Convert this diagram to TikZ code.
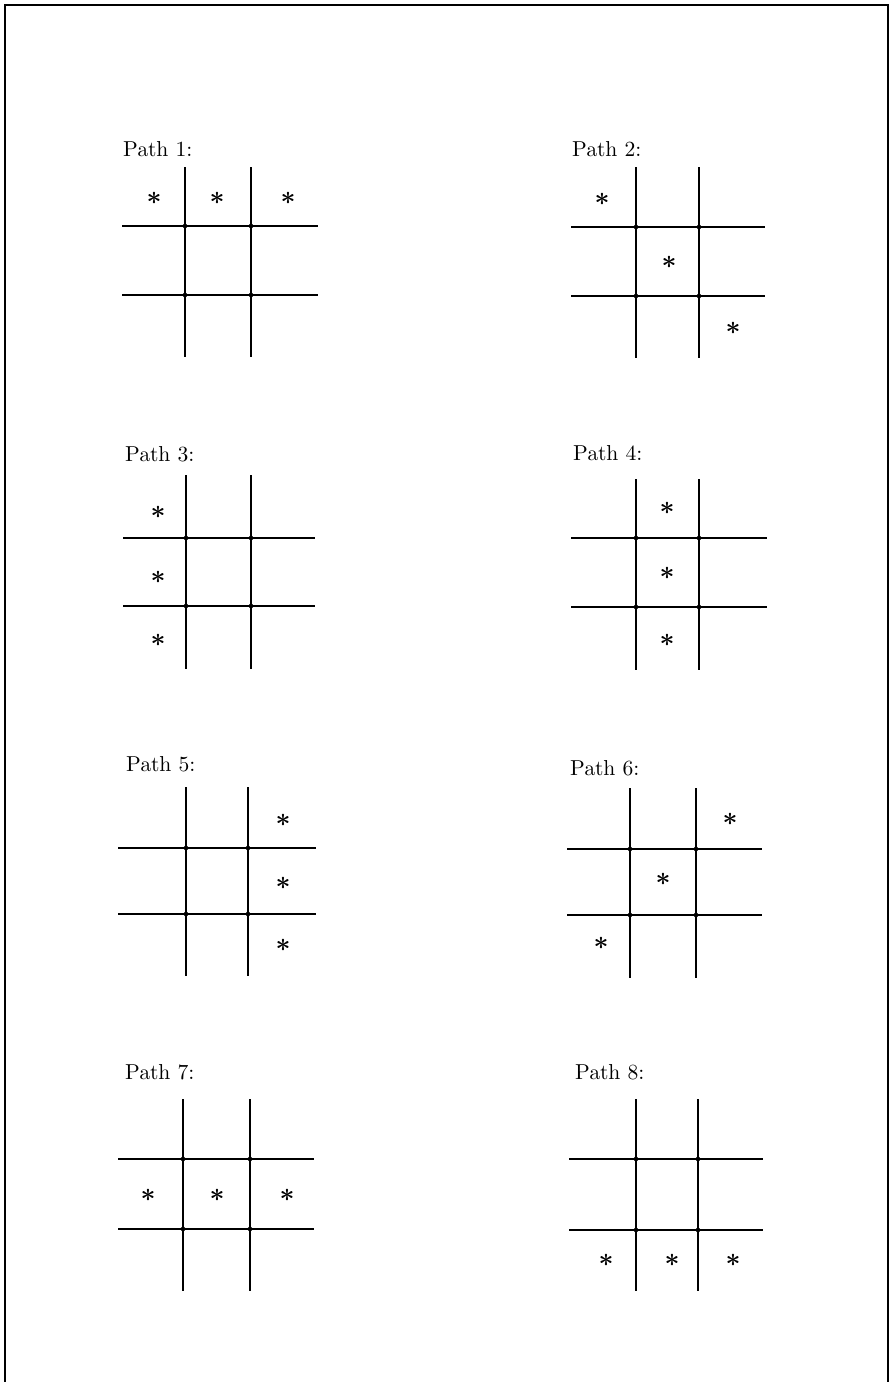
\documentclass[tikz,border=0pt]{standalone}
\usepackage{amsmath,amssymb}
\usepackage{tikz}

\font\pathfont=cmr10 at 21.6pt
\font\astfont=cmbsy10 at 26pt
\newcommand{\cellast}{{\astfont\char3}}

\tikzset{
  gridline/.style={line width=2pt},
  pathlabel/.style={anchor=base west, inner sep=0pt, font=\pathfont},
  cellmark/.style={inner sep=0pt},
}

\begin{document}
\begin{tikzpicture}[x=1pt, y=-1pt]

\useasboundingbox (0,0) rectangle (892,1382);
\draw[line width=2pt] (5,1390) -- (5,5) -- (888,5) -- (888,1390);

% Path 1: top row
\begin{scope}
\node[pathlabel] (lab1) at (123,156) {Path 1:};
\draw[gridline] (185,167) -- (185,357);
\draw[gridline] (251,167) -- (251,357);
\draw[gridline] (122,226) -- (318,226);
\draw[gridline] (122,295) -- (318,295);
\fill (185,226) circle (2.3) (251,226) circle (2.3) (185,295) circle (2.3) (251,295) circle (2.3);
\node[cellmark] (p1a) at (154,198) {\cellast};
\node[cellmark] (p1b) at (217,198) {\cellast};
\node[cellmark] (p1c) at (288,198) {\cellast};
\end{scope}

% Path 2: diagonal
\begin{scope}
\node[pathlabel] (lab2) at (572,156) {Path 2:};
\draw[gridline] (636,167) -- (636,358);
\draw[gridline] (699,167) -- (699,358);
\draw[gridline] (571,227) -- (765,227);
\draw[gridline] (571,296) -- (765,296);
\fill (636,227) circle (2.3) (699,227) circle (2.3) (636,296) circle (2.3) (699,296) circle (2.3);
\node[cellmark] (p2a) at (602,199) {\cellast};
\node[cellmark] (p2b) at (669,262) {\cellast};
\node[cellmark] (p2c) at (733,328) {\cellast};
\end{scope}

% Path 3: left column
\begin{scope}
\node[pathlabel] (lab3) at (125,461) {Path 3:};
\draw[gridline] (186,475) -- (186,669);
\draw[gridline] (251,475) -- (251,669);
\draw[gridline] (123,538) -- (315,538);
\draw[gridline] (123,606) -- (315,606);
\fill (186,538) circle (2.3) (251,538) circle (2.3) (186,606) circle (2.3) (251,606) circle (2.3);
\node[cellmark] (p3a) at (158,512) {\cellast};
\node[cellmark] (p3b) at (158,577) {\cellast};
\node[cellmark] (p3c) at (158,640) {\cellast};
\end{scope}

% Path 4: middle column
\begin{scope}
\node[pathlabel] (lab4) at (573,460) {Path 4:};
\draw[gridline] (636,479) -- (636,670);
\draw[gridline] (699,479) -- (699,670);
\draw[gridline] (571,538) -- (767,538);
\draw[gridline] (571,607) -- (767,607);
\fill (636,538) circle (2.3) (699,538) circle (2.3) (636,607) circle (2.3) (699,607) circle (2.3);
\node[cellmark] (p4a) at (667,508) {\cellast};
\node[cellmark] (p4b) at (667,573) {\cellast};
\node[cellmark] (p4c) at (667,640) {\cellast};
\end{scope}

% Path 5: right column
\begin{scope}
\node[pathlabel] (lab5) at (126,771) {Path 5:};
\draw[gridline] (186,787) -- (186,976);
\draw[gridline] (248,787) -- (248,976);
\draw[gridline] (118,848) -- (316,848);
\draw[gridline] (118,914) -- (316,914);
\fill (186,848) circle (2.3) (248,848) circle (2.3) (186,914) circle (2.3) (248,914) circle (2.3);
\node[cellmark] (p5a) at (283,820) {\cellast};
\node[cellmark] (p5b) at (283,883) {\cellast};
\node[cellmark] (p5c) at (283,945) {\cellast};
\end{scope}

% Path 6: anti-diagonal
\begin{scope}
\node[pathlabel] (lab6) at (570,775) {Path 6:};
\draw[gridline] (630,788) -- (630,978);
\draw[gridline] (696,788) -- (696,978);
\draw[gridline] (567,849) -- (762,849);
\draw[gridline] (567,915) -- (762,915);
\fill (630,849) circle (2.3) (696,849) circle (2.3) (630,915) circle (2.3) (696,915) circle (2.3);
\node[cellmark] (p6a) at (730,819) {\cellast};
\node[cellmark] (p6b) at (663,879) {\cellast};
\node[cellmark] (p6c) at (601,943) {\cellast};
\end{scope}

% Path 7: middle row
\begin{scope}
\node[pathlabel] (lab7) at (125,1079) {Path 7:};
\draw[gridline] (183,1099) -- (183,1291);
\draw[gridline] (250,1099) -- (250,1291);
\draw[gridline] (118,1159) -- (314,1159);
\draw[gridline] (118,1229) -- (314,1229);
\fill (183,1159) circle (2.3) (250,1159) circle (2.3) (183,1229) circle (2.3) (250,1229) circle (2.3);
\node[cellmark] (p7a) at (148,1195) {\cellast};
\node[cellmark] (p7b) at (217,1195) {\cellast};
\node[cellmark] (p7c) at (287,1195) {\cellast};
\end{scope}

% Path 8: bottom row
\begin{scope}
\node[pathlabel] (lab8) at (575,1079) {Path 8:};
\draw[gridline] (636,1099) -- (636,1291);
\draw[gridline] (698,1099) -- (698,1291);
\draw[gridline] (569,1159) -- (763,1159);
\draw[gridline] (569,1230) -- (763,1230);
\fill (636,1159) circle (2.3) (698,1159) circle (2.3) (636,1230) circle (2.3) (698,1230) circle (2.3);
\node[cellmark] (p8a) at (606,1260) {\cellast};
\node[cellmark] (p8b) at (672,1260) {\cellast};
\node[cellmark] (p8c) at (733,1260) {\cellast};
\end{scope}

\end{tikzpicture}
\end{document}
